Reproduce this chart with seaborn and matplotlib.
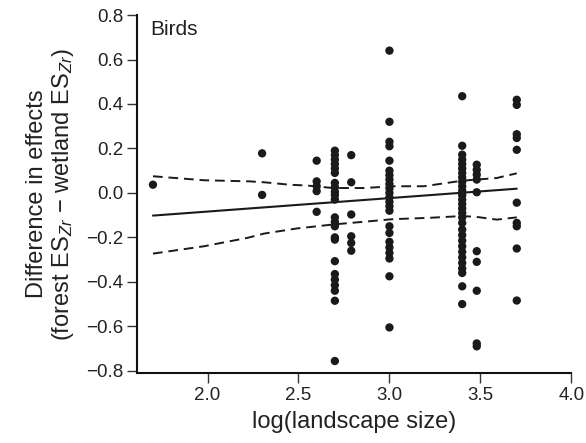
import numpy as np
import pandas as pd
import matplotlib
matplotlib.use("Agg")
import matplotlib.pyplot as plt
import seaborn as sns

# landscape size columns (log scale) and the effect differences
col_x = [1.70, 2.30, 2.60, 2.70, 2.79, 3.00, 3.40, 3.48, 3.70]
col_1_70 = [0.037]
col_2_30 = [0.178, -0.009]
col_2_60 = [0.145, 0.052, 0.03, 0.008, -0.085]
col_2_70 = [0.19, 0.17, 0.15, 0.13, 0.11, 0.09, 0.045, 0.025, 0.005, -0.01, -0.03,
            -0.11, -0.13, -0.15, -0.20, -0.21, -0.307, -0.365, -0.39, -0.415, -0.44,
            -0.485, -0.756]
col_2_79 = [0.17, 0.048, -0.097, -0.195, -0.225, -0.26]
col_3_00 = [0.64, 0.32, 0.23, 0.21, 0.145, 0.10, 0.08, 0.06, 0.04, 0.02, 0.0, -0.02,
            -0.04, -0.06, -0.08, -0.15, -0.18, -0.22, -0.245, -0.27, -0.295, -0.375,
            -0.605]
col_3_40 = [0.435, 0.212, 0.172, 0.15, 0.13, 0.11, 0.09, 0.07, 0.05, 0.03, 0.01, -0.01,
            -0.03, -0.05, -0.07, -0.09, -0.11, -0.135, -0.165, -0.19, -0.215, -0.24,
            -0.265, -0.29, -0.315, -0.34, -0.36, -0.42, -0.5]
col_3_48 = [0.127, 0.104, 0.082, 0.06, 0.003, -0.262, -0.31, -0.44, -0.677, -0.69]
col_3_70 = [0.419, 0.396, 0.264, 0.247, 0.194, -0.044, -0.135, -0.15, -0.25, -0.484]
col_y = [col_1_70, col_2_30, col_2_60, col_2_70, col_2_79, col_3_00, col_3_40, col_3_48, col_3_70]

# fitted line and its dashed confidence band
fit_x = [1.70, 3.70]
fit_y = [-0.102, 0.019]
upper_x = [1.70, 1.98, 2.23, 2.31, 2.45, 2.55, 2.69, 2.86, 3.02, 3.19, 3.40, 3.48, 3.59, 3.63, 3.70]
upper_y = [0.075, 0.057, 0.052, 0.048, 0.037, 0.033, 0.022, 0.022, 0.03, 0.03, 0.055, 0.06, 0.067, 0.075, 0.088]
lower_x = [1.70, 1.98, 2.22, 2.31, 2.49, 2.69, 3.02, 3.22, 3.40, 3.48, 3.59, 3.70]
lower_y = [-0.273, -0.24, -0.202, -0.183, -0.16, -0.142, -0.118, -0.112, -0.104, -0.108, -0.12, -0.11]

pts = pd.DataFrame({
    "x": np.concatenate([[x] * len(ys) for x, ys in zip(col_x, col_y)]),
    "y": np.concatenate(col_y),
})

sns.set_style("ticks")
plt.rcParams["font.family"] = ["Liberation Sans", "DejaVu Sans"]
plt.rcParams["mathtext.fontset"] = "custom"
plt.rcParams["mathtext.rm"] = "Liberation Sans"
plt.rcParams["mathtext.it"] = "Liberation Sans:italic"

fig, ax = plt.subplots(figsize=(5.86, 4.43), dpi=100)
fig.subplots_adjust(left=0.234, right=0.975, top=0.966, bottom=0.158)

sns.scatterplot(data=pts, x="x", y="y", color="#1a1a1a", s=36, edgecolor="none", ax=ax)
sns.lineplot(x=fit_x, y=fit_y, color="#1a1a1a", lw=1.5, ax=ax)
dash = (0, (5, 3))
sns.lineplot(x=upper_x, y=upper_y, color="#1a1a1a", lw=1.4, ls=dash,
             sort=False, estimator=None, ax=ax)
sns.lineplot(x=lower_x, y=lower_y, color="#1a1a1a", lw=1.4, ls=dash,
             sort=False, estimator=None, ax=ax)

ax.set_xlim(1.613, 4.0)
ax.set_ylim(-0.81, 0.8)
ax.set_xticks([2.0, 2.5, 3.0, 3.5, 4.0])
ax.set_yticks(np.arange(-0.8, 0.81, 0.2))
ax.set_yticklabels(["\u22120.8", "\u22120.6", "\u22120.4", "\u22120.2", "0.0",
                    "0.2", "0.4", "0.6", "0.8"])
ax.set_xticklabels(["2.0", "2.5", "3.0", "3.5", "4.0"])
ax.tick_params(axis="both", labelsize=13.5, length=7, width=1, color="#333333",
               labelcolor="#222222", pad=3)
for side in ["top", "right"]:
    ax.spines[side].set_visible(False)
for side in ["left", "bottom"]:
    ax.spines[side].set_linewidth(1.5)
    ax.spines[side].set_color("#111111")

ax.set_xlabel("log(landscape size)", fontsize=17, color="#222222", labelpad=5)
ax.set_ylabel("Difference in effects\n(forest ES$_{Zr}$ \u2212 wetland ES$_{Zr}$)",
              fontsize=17, color="#222222", labelpad=7, linespacing=1.1)
ax.text(0.031, 0.986, "Birds", transform=ax.transAxes, fontsize=15, va="top",
        ha="left", color="#222222")

fig.savefig("out.png", dpi=100)
